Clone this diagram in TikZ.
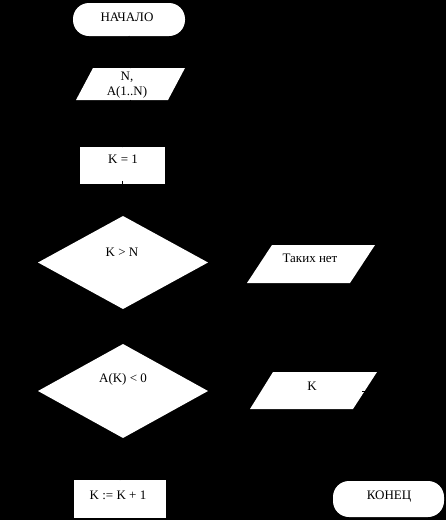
\documentclass[tikz,border=0pt]{standalone}
\usepackage{fontspec}
\setmainfont{Liberation Serif}
\usetikzlibrary{shapes.geometric}
\begin{document}
\begin{tikzpicture}[x=1pt,y=-1pt,
  every node/.style={inner sep=0pt, outer sep=0pt},
  txt/.style={font=\fontsize{13}{15}\selectfont, text=black, align=center},
  term/.style={fill=white, rectangle, rounded corners=16pt},
  procbox/.style={fill=white, rectangle},
  decis/.style={fill=white, diamond, minimum width=170pt},
  ghost/.style={rectangle},
  conn/.style={draw=black, line width=0.8pt}]
\useasboundingbox (0,0) rectangle (446,520);
\fill[black] (0,0) rectangle (446,520);

% terminals and boxes
\node[term, minimum width=112pt, minimum height=33pt] (start) at (129,19.5) {};
\node[txt] (startt) at (127,17) {НАЧАЛО};

\fill[white] (93,68) -- (185,68) -- (168,100) -- (76,100) -- cycle;
\node[ghost, minimum width=109pt, minimum height=32pt] (inp) at (130.5,84) {};
\node[txt] (inpt) at (127,85.5) {N,\\A(1..N)};

\node[procbox, minimum width=85pt, minimum height=37pt] (k1) at (122.5,165.5) {};
\node[txt] (k1t) at (123,159) {K = 1};

\node[decis, minimum height=93pt] (d1) at (123,262.5) {};
\node[txt] (d1t) at (122,252) {K > N};

\fill[white] (272,245) -- (375,245) -- (350,283) -- (247,283) -- cycle;
\node[ghost, minimum width=128pt, minimum height=38pt] (none) at (311,264) {};
\node[txt] (nonet) at (310,258) {Таких нет};

\node[decis, minimum height=94pt] (d2) at (123,391) {};
\node[txt] (d2t) at (123,379) {A(K) < 0};

\fill[white] (273,372) -- (377,372) -- (353,409) -- (250,409) -- cycle;
\node[ghost, minimum width=127pt, minimum height=37pt] (outk) at (313,390.5) {};
\node[txt] (outkt) at (312,386) {K};

\node[procbox, minimum width=92pt, minimum height=38pt] (inc) at (120,499) {};
\node[txt] (inct) at (118,495) {K := K + 1};

\node[term, minimum width=111pt, minimum height=36pt] (stop) at (388.5,499) {};
\node[txt] (stopt) at (389,497) {КОНЕЦ};

% connectors (black on black, as in the reference)
\coordinate (kr) at (362,391);
\draw[conn] (start.south) -- (inp.north);
\draw[conn] (inp.south) -- (k1.north);
\draw[conn] ([yshift=3pt]k1.south) -- (d1.north);
\draw[conn] (d1.south) -- (d2.north);
\draw[conn] (d1.east) -- (none.west);
\draw[conn] (d2.east) -- (outk.west);
\draw[conn] (d2.south) -- (inc.north);
\draw[conn] (kr) -| (stop.north);
\end{tikzpicture}
\end{document}
